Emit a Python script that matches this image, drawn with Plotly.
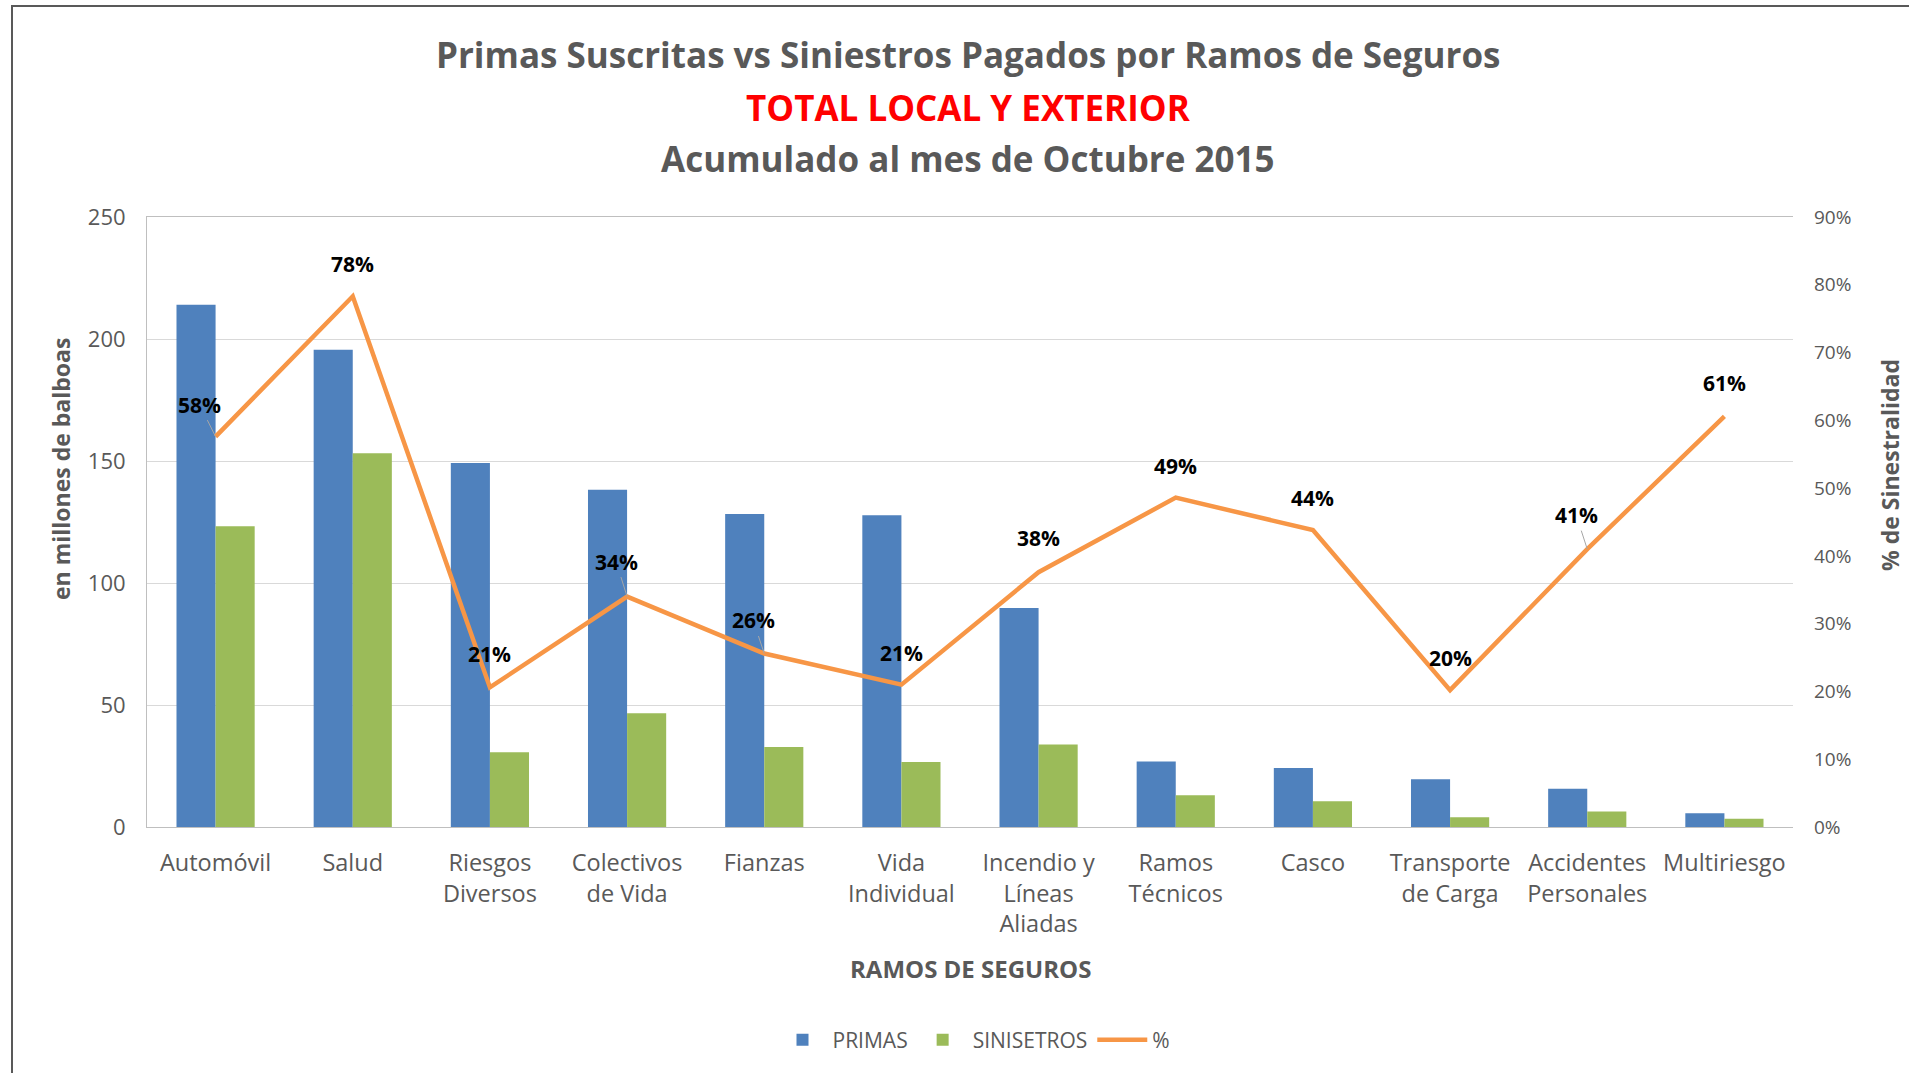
import plotly.graph_objects as go

# ---------------- data ----------------
categories = ["Automóvil", "Salud", "Riesgos<br>Diversos", "Colectivos<br>de Vida", "Fianzas",
              "Vida<br>Individual", "Incendio y<br>Líneas<br>Aliadas", "Ramos<br>Técnicos", "Casco",
              "Transporte<br>de Carga", "Accidentes<br>Personales", "Multiriesgo"]
primas = [214.0, 195.6, 149.2, 138.2, 128.3, 127.8, 89.8, 26.8, 24.2, 19.6, 15.7, 5.6]
siniestros = [123.3, 153.2, 30.6, 46.6, 32.8, 26.6, 33.8, 13.0, 10.6, 4.0, 6.4, 3.4]
pct = [0.576, 0.783, 0.206, 0.340, 0.256, 0.210, 0.376, 0.486, 0.438, 0.202, 0.410, 0.606]

y_ticks = [0, 50, 100, 150, 200, 250]
y2_ticks = [0, 0.1, 0.2, 0.3, 0.4, 0.5, 0.6, 0.7, 0.8, 0.9]

# label offsets in pixels (dx, dy, leader line)
label_offsets = [(-16, -32, True), (0, -32, False), (0, -33, False), (-11, -35, True),
                 (-11, -33, True), (0, -32, False), (0, -34, False), (0, -32, False),
                 (0, -32, False), (0, -32, False), (-11, -34, True), (0, -33, False)]

# ---------------- geometry helpers ----------------
W, H = 1909, 1073
PL, PR, PT, PB = 147, 1793, 217, 827


def px_x(x):
    return (x - PL) / (PR - PL)


def px_y(y):
    return (PB - y) / (PB - PT)


GRAY = "#595959"
FONT = "Open Sans"

fig = go.Figure()
fig.add_trace(go.Bar(x=categories, y=primas, name="PRIMAS", marker_color="#4F81BD",
                     marker_line_width=0))
fig.add_trace(go.Bar(x=categories, y=siniestros, name="SINISETROS", marker_color="#9BBB59",
                     marker_line_width=0))
fig.add_trace(go.Scatter(x=categories, y=pct, name="%", yaxis="y2", mode="lines",
                         line=dict(color="#F79646", width=4.5)))

annotations = []
for c, p, (dx, dy, lead) in zip(categories, pct, label_offsets):
    a = dict(x=c, y=p, xref="x", yref="y2", text=f"<b>{round(p * 100):d}%</b>",
             font=dict(family=FONT, size=21, color="#000000"))
    if lead:
        a.update(showarrow=True, ax=dx, ay=dy, arrowhead=0, arrowwidth=1,
                 arrowcolor="#A6A6A6", standoff=0)
    else:
        a.update(showarrow=False, xshift=dx, yshift=-dy)
    annotations.append(a)

# titles
for text, color, ypx in [("Primas Suscritas vs Siniestros Pagados por Ramos de Seguros", GRAY, 55),
                         ("TOTAL LOCAL Y EXTERIOR", "#FF0000", 107),
                         ("Acumulado al mes de Octubre 2015", GRAY, 158)]:
    annotations.append(dict(x=px_x(968), y=px_y(ypx), xref="paper", yref="paper",
                            text=f"<b>{text}</b>", showarrow=False, xanchor="center",
                            yanchor="middle", font=dict(family=FONT, size=35, color=color)))

annotations.append(dict(x=px_x(61), y=px_y(469), xref="paper", yref="paper",
                        text="<b>en millones de balboas</b>", textangle=-90, showarrow=False,
                        xanchor="center", yanchor="middle",
                        font=dict(family=FONT, size=23, color=GRAY)))
annotations.append(dict(x=px_x(1890), y=px_y(465), xref="paper", yref="paper",
                        text="<b>% de Sinestralidad</b>", textangle=-90, showarrow=False,
                        xanchor="center", yanchor="middle",
                        font=dict(family=FONT, size=23, color=GRAY)))
annotations.append(dict(x=px_x(970), y=px_y(968), xref="paper", yref="paper",
                        text="<b>RAMOS DE SEGUROS</b>", showarrow=False,
                        xanchor="center", yanchor="middle",
                        font=dict(family=FONT, size=24, color=GRAY)))

fig.update_layout(
    width=W, height=H, autosize=False,
    margin=dict(l=PL, r=W - PR, t=PT, b=H - PB, pad=0),
    paper_bgcolor="white", plot_bgcolor="white",
    barmode="group", bargap=0.43, bargroupgap=0,
    font=dict(family=FONT, color=GRAY),
    showlegend=True,
    legend=dict(orientation="h", x=px_x(974), y=px_y(1040), xanchor="center", yanchor="middle",
                font=dict(family=FONT, size=21, color=GRAY), traceorder="normal",
                itemwidth=50),
    xaxis=dict(showgrid=False, showline=True, linecolor="#BFBFBF", linewidth=1, mirror=True,
               ticks="", tickfont=dict(family=FONT, size=23.5, color=GRAY),
               ticklabelstandoff=15, tickangle=0),
    yaxis=dict(range=[0, 250], tickvals=y_ticks, showgrid=True, gridcolor="#D9D9D9",
               gridwidth=1, showline=True, linecolor="#BFBFBF", zeroline=False, ticks="",
               tickfont=dict(family=FONT, size=22, color=GRAY), ticklabelstandoff=16),
    yaxis2=dict(range=[0, 0.9], tickvals=y2_ticks, tickformat=".0%", overlaying="y",
                side="right", showgrid=False, zeroline=False, showline=False, ticks="",
                tickfont=dict(family=FONT, size=19, color=GRAY), ticklabelstandoff=20),
    annotations=annotations,
    shapes=[dict(type="rect", xref="paper", yref="paper", x0=px_x(12), x1=px_x(1930),
                 y0=px_y(6), y1=px_y(1100), line=dict(color="#595959", width=2),
                 fillcolor="rgba(0,0,0,0)", layer="below")],
)

fig.write_html("out.html")
